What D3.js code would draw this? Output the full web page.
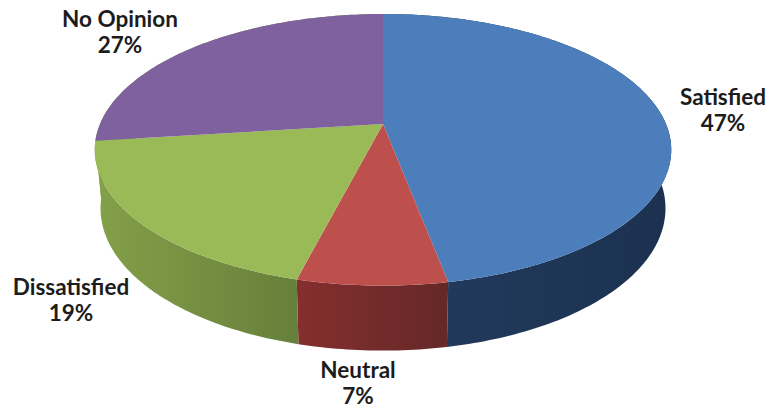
<!DOCTYPE html>
<html>
<head>
<meta charset="utf-8">
<script src="https://cdn.jsdelivr.net/npm/d3@7"></script>
<style>
  html, body { margin: 0; padding: 0; background: #fff; }
  svg { display: block; }
  text { font-family: Lato, sans-serif; font-weight: 700; font-size: 22.5px; fill: #1c1c1c; text-anchor: middle; }
</style>
</head>
<body>
<svg width="769" height="408"></svg>
<script>
const categories = ["Satisfied", "Neutral", "Dissatisfied", "No Opinion"];
const shares = [47, 7, 19, 27];
const topColors = ["#4c7ebb", "#bd4f4c", "#9aba58", "#7f619f"];
const wallLeft = ["#223c5e", "#842f2e", "#84a049", "#84a049"];
const wallRight = ["#1c3150", "#642827", "#667f3a", "#84a049"];

const svg = d3.select("svg");
const defs = svg.append("defs");

const pie = d3.pie().sort(null).value(d => d)(shares);

// perspective: v runs from back (-1) to front (+1)
const cx = 383, apexY = 124, R = 283;
const persp = -0.19, spread = 130.9;

function project(a, depth) {
  const u = Math.sin(a), v = -Math.cos(a);
  const s = 1 + persp * v;
  const shrink = depth ? 0.98 : 1;
  return [
    cx + R * shrink * u / s,
    apexY + spread * v / s + (depth ? depth + 8 * v : 0)
  ];
}

function arcPoints(a0, a1, depth) {
  const n = Math.max(2, Math.ceil((a1 - a0) * 60));
  return d3.range(n + 1).map(i => project(a0 + (a1 - a0) * i / n, depth));
}

const line = d3.line();
const wallDepth = 57;

// side walls first, the top faces cover whatever is at the back
pie.forEach((d, i) => {
  const g = defs.append("linearGradient").attr("id", "wall" + i);
  g.append("stop").attr("offset", "0%").attr("stop-color", wallLeft[i]);
  g.append("stop").attr("offset", "100%").attr("stop-color", wallRight[i]);

  const top = arcPoints(d.startAngle, d.endAngle, 0);
  const bottom = arcPoints(d.startAngle, d.endAngle, wallDepth).reverse();
  svg.append("path")
    .attr("d", line(top.concat(bottom)) + "Z")
    .attr("fill", "url(#wall" + i + ")");
});

pie.forEach((d, i) => {
  const pts = [[cx, apexY]].concat(arcPoints(d.startAngle, d.endAngle, 0));
  svg.append("path")
    .attr("d", line(pts) + "Z")
    .attr("fill", topColors[i]);
});

// labels
const labelX = [723, 358, 71, 120];
const labelY = [105, 378, 295, 27];
categories.forEach((c, i) => {
  svg.append("text").attr("x", labelX[i]).attr("y", labelY[i]).text(c);
  svg.append("text").attr("x", labelX[i]).attr("y", labelY[i] + 26).text(shares[i] + "%");
});
</script>
</body>
</html>
